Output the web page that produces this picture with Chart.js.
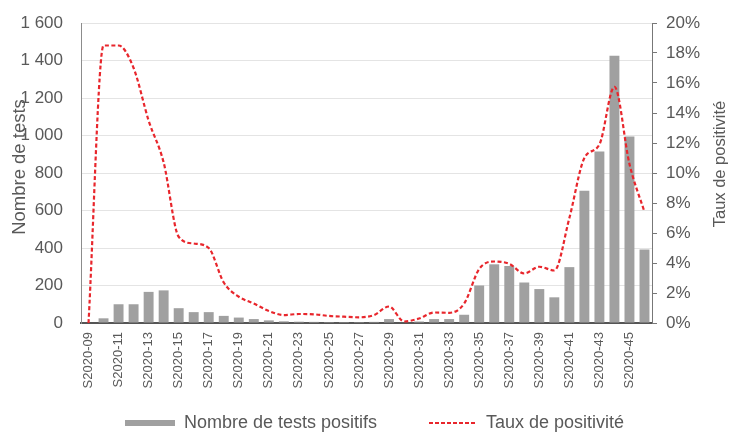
<!DOCTYPE html>
<html>
<head>
<meta charset="utf-8">
<script src="https://cdn.jsdelivr.net/npm/chart.js@4.4.1/dist/chart.umd.min.js"></script>
<style>
  html, body { margin: 0; padding: 0; background: #ffffff; }
  canvas { display: block; }
</style>
</head>
<body>
<canvas id="c" width="731" height="435"></canvas>
<script>
// ---- Data ----
const weeks = [
  'S2020-09','S2020-10','S2020-11','S2020-12','S2020-13','S2020-14','S2020-15','S2020-16',
  'S2020-17','S2020-18','S2020-19','S2020-20','S2020-21','S2020-22','S2020-23','S2020-24',
  'S2020-25','S2020-26','S2020-27','S2020-28','S2020-29','S2020-30','S2020-31','S2020-32',
  'S2020-33','S2020-34','S2020-35','S2020-36','S2020-37','S2020-38','S2020-39','S2020-40',
  'S2020-41','S2020-42','S2020-43','S2020-44','S2020-45','S2020-46'
];
const testsPositifs = [
  0, 25, 100, 100, 166, 174, 79, 58,
  58, 38, 29, 21, 14, 9, 7, 6,
  5, 5, 5, 6, 21, 3, 8, 21,
  21, 44, 200, 313, 304, 216, 181, 137,
  298, 705, 915, 1425, 995, 392
];
const tauxPositivite = [
  0, 18.5, 18.5, 17.0, 13.5, 10.7, 5.75, 5.3,
  5.0, 2.7, 1.75, 1.3, 0.8, 0.53, 0.6, 0.58,
  0.47, 0.42, 0.38, 0.53, 1.1, 0.1, 0.3, 0.7,
  0.68, 1.3, 3.6, 4.1, 3.95, 3.3, 3.75, 3.5,
  7.0, 11.0, 11.9, 15.75, 10.6, 7.4
];
const seriesNames = ['Nombre de tests positifs', 'Taux de positivité'];
const axisTitles = ['Nombre de tests', 'Taux de positivité'];

const FONT = "'Liberation Sans', Arial, sans-serif";
const TEXT = '#595959';
const BAR_COLOR = '#a0a0a0';
const LINE_COLOR = '#e8262c';
const LEGEND_FONT = 18;
const LEGEND_PAD = 50;
const LEGEND_BOX_H = 29;
const ICON_W = 50;

function fmtThousands(v) {
  const s = String(Math.round(v));
  return s.replace(/\B(?=(\d{3})+(?!\d))/g, ' ');
}

// legend icons
function makeIcon(kind) {
  const cv = document.createElement('canvas');
  cv.width = ICON_W; cv.height = 8;
  const g = cv.getContext('2d');
  if (kind === 'bar') {
    g.fillStyle = BAR_COLOR;
    g.fillRect(0, 1, ICON_W, 6);
  } else {
    g.strokeStyle = LINE_COLOR;
    g.lineWidth = 2;
    g.setLineDash([4, 2]);
    g.beginPath();
    g.moveTo(2, 4); g.lineTo(ICON_W, 4);
    g.stroke();
  }
  return cv;
}
const barIcon = makeIcon('bar');
const lineIcon = makeIcon('line');

const layoutPlugin = {
  id: 'layoutTweaks',
  beforeLayout(chart) {
    const lg = chart.legend;
    if (lg && !lg._fitPatched) {
      const orig = lg.fit;
      lg.fit = function () { orig.call(this); this.height = LEGEND_BOX_H; };
      lg._fitPatched = true;
    }
  },
  afterLayout(chart) {
    const lg = chart.legend;
    if (lg) {
      const top = chart.height - 12 - LEGEND_FONT / 2 - LEGEND_PAD;
      lg.top = top;
      lg.bottom = top + LEGEND_PAD * 2 + LEGEND_FONT;
      lg.left += 9;
      lg.right += 9;
    }
  },
  afterDraw(chart) {
    const ctx = chart.ctx;
    const area = chart.chartArea;
    const cy = area.top + (area.bottom - area.top) * 0.48;
    ctx.save();
    ctx.fillStyle = TEXT;
    ctx.textAlign = 'center';
    ctx.textBaseline = 'middle';
    ctx.save();
    ctx.font = '18.5px ' + FONT;
    ctx.translate(20, cy);
    ctx.rotate(-Math.PI / 2);
    ctx.fillText(axisTitles[0], 0, 0);
    ctx.restore();
    ctx.save();
    ctx.font = '16.5px ' + FONT;
    ctx.translate(chart.width - 11, cy - 3);
    ctx.rotate(-Math.PI / 2);
    ctx.fillText(axisTitles[1], 0, 0);
    ctx.restore();
    ctx.restore();
  }
};

new Chart(document.getElementById('c'), {
  data: {
    labels: weeks,
    datasets: [
      {
        type: 'line',
        label: seriesNames[1],
        data: tauxPositivite,
        yAxisID: 'y1',
        borderColor: LINE_COLOR,
        backgroundColor: LINE_COLOR,
        borderWidth: 2.2,
        borderDash: [4, 2.5],
        pointRadius: 0,
        cubicInterpolationMode: 'monotone',
        fill: false,
        order: 0
      },
      {
        type: 'bar',
        label: seriesNames[0],
        data: testsPositifs,
        yAxisID: 'y',
        backgroundColor: BAR_COLOR,
        borderWidth: 0,
        categoryPercentage: 1.0,
        barPercentage: 0.66,
        order: 1
      }
    ]
  },
  options: {
    responsive: false,
    animation: false,
    devicePixelRatio: 1,
    layout: { padding: { top: 23, bottom: 0, left: 0, right: 0 } },
    plugins: {
      legend: {
        position: 'bottom',
        reverse: true,
        labels: {
          usePointStyle: true,
          pointStyleWidth: ICON_W,
          boxWidth: ICON_W,
          boxHeight: 8,
          padding: LEGEND_PAD,
          color: TEXT,
          font: { family: FONT, size: LEGEND_FONT },
          generateLabels(chart) {
            const items = Chart.defaults.plugins.legend.labels.generateLabels(chart);
            items.forEach(it => {
              it.pointStyle = chart.data.datasets[it.datasetIndex].type === 'bar' ? barIcon : lineIcon;
            });
            return items;
          }
        }
      },
      tooltip: { enabled: false }
    },
    scales: {
      x: {
        grid: { display: false, drawTicks: false },
        border: { display: true, color: '#555555', width: 2 },
        ticks: {
          autoSkip: false,
          maxRotation: 90,
          minRotation: 90,
          padding: 9,
          color: TEXT,
          font: { family: FONT, size: 13 },
          callback: function (value, index) {
            return index % 2 === 0 ? this.getLabelForValue(value) : '';
          }
        },
        afterFit(scale) { scale.height = 83; }
      },
      y: {
        position: 'left',
        min: 0,
        max: 1600,
        grid: { color: '#e4e4e4', lineWidth: 1, drawTicks: false },
        border: { display: true, color: '#8c8c8c', width: 1 },
        ticks: {
          stepSize: 200,
          padding: 18,
          color: TEXT,
          font: { family: FONT, size: 17 },
          callback: (v) => fmtThousands(v)
        },
        afterFit(scale) { scale.width = 81; scale.paddingTop = 0; scale.paddingBottom = 0; }
      },
      y1: {
        position: 'right',
        min: 0,
        max: 20,
        grid: { display: true, drawOnChartArea: false, drawTicks: true, tickLength: 5, color: '#777777' },
        border: { display: true, color: '#777777', width: 1 },
        ticks: {
          stepSize: 2,
          padding: 9,
          color: TEXT,
          font: { family: FONT, size: 17 },
          callback: (v) => v + '%'
        },
        afterFit(scale) { scale.width = 79; scale.paddingTop = 0; scale.paddingBottom = 0; }
      }
    }
  },
  plugins: [layoutPlugin]
});
</script>
</body>
</html>
